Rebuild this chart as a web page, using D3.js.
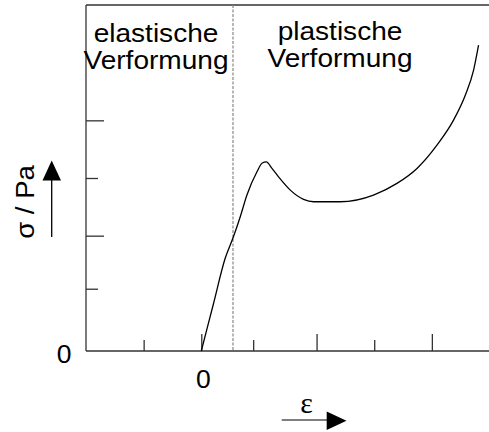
<!DOCTYPE html>
<html>
<head>
<meta charset="utf-8">
<script src="https://cdn.jsdelivr.net/npm/d3@7"></script>
<style>
  html, body { margin: 0; padding: 0; background: #fff; }
  svg { display: block; }
  text { font-family: "Liberation Sans", Arial, sans-serif; fill: #000; }
</style>
</head>
<body>
<svg id="chart" width="489" height="432"></svg>
<script>
// ---- data ----
const strain = [0, 0.104, 0.208, 0.278, 0.338, 0.396, 0.483, 0.529, 0.564, 0.613, 0.670, 0.772, 0.887, 0.974, 1.206, 1.494, 1.697, 1.871, 2.044, 2.188, 2.290, 2.362, 2.405];
const stress = [0, 0.403, 0.806, 0.988, 1.164, 1.352, 1.554, 1.630, 1.640, 1.583, 1.510, 1.395, 1.315, 1.294, 1.294, 1.352, 1.453, 1.583, 1.785, 2.002, 2.218, 2.435, 2.652];
const xMajorTicks = [0, 1, 2];
const xMinorTicks = [-0.5, 0.45, 1.5];
const yMajorTicks = [1, 2];
const yMinorTicks = [0.54, 1.5];
const xTickLabels = ["0"];
const yTickLabels = ["0"];
const boundary = 0.275;
const regionLabels = [["elastische", "Verformung"], ["plastische", "Verformung"]];
const xLabel = "ε";
const yLabel = "σ / Pa";

// ---- scales ----
const svg = d3.select("#chart");
const x = d3.scaleLinear().domain([-1, 2.5]).range([86, 489.5]);
const y = d3.scaleLinear().domain([0, 3]).range([351, 5]);
const axisColor = "#333";

// axis lines (frame)
const [x0, x1] = x.range();
const [yb, yt] = y.range();
svg.append("line").attr("x1", x0).attr("x2", x1).attr("y1", yb).attr("y2", yb)
  .attr("stroke", axisColor).attr("stroke-width", 1.3);
svg.append("line").attr("x1", x0).attr("x2", x0).attr("y1", yb).attr("y2", yt)
  .attr("stroke", axisColor).attr("stroke-width", 1.3);
svg.append("line").attr("x1", x0).attr("x2", x1).attr("y1", yt).attr("y2", yt)
  .attr("stroke", axisColor).attr("stroke-width", 1.3);

// ticks via d3 axes (inward)
function ticks(axisGen, tf) {
  const g = svg.append("g").attr("transform", tf).call(axisGen);
  g.select(".domain").remove();
  g.selectAll(".tick line").attr("stroke", axisColor).attr("stroke-width", 1.3);
  g.selectAll(".tick text").remove();
}
ticks(d3.axisBottom(x).tickValues(xMajorTicks).tickSize(-17).tickFormat(""), `translate(0,${yb})`);
ticks(d3.axisBottom(x).tickValues(xMinorTicks).tickSize(-11).tickFormat(""), `translate(0,${yb})`);
ticks(d3.axisLeft(y).tickValues(yMajorTicks).tickSize(-18).tickFormat(""), `translate(${x0},0)`);
ticks(d3.axisLeft(y).tickValues(yMinorTicks).tickSize(-12).tickFormat(""), `translate(${x0},0)`);

// tick labels
svg.append("text").attr("x", x(0) + 2).attr("y", yb + 37)
  .attr("text-anchor", "middle").attr("font-size", 26.5).text(xTickLabels[0]);
svg.append("text").attr("x", x0 - 22).attr("y", y(0) + 11.5)
  .attr("text-anchor", "middle").attr("font-size", 26.5).text(yTickLabels[0]);

// boundary dashed line
svg.append("line").attr("x1", x(boundary)).attr("x2", x(boundary))
  .attr("y1", yt).attr("y2", yb)
  .attr("stroke", "#888").attr("stroke-width", 1.2).attr("stroke-dasharray", "3,1.5");

// curve
const pts = strain.map((s, i) => [s, stress[i]]);
const line = d3.line().x(d => x(d[0])).y(d => y(d[1])).curve(d3.curveMonotoneX);
svg.append("path").attr("d", line(pts)).attr("fill", "none")
  .attr("stroke", "#000").attr("stroke-width", 1.3);

// region labels
function label(lines, cx, base) {
  lines.forEach((t, i) => {
    svg.append("text")
      .attr("transform", `translate(${cx},${base + i * 27}) scale(1.1,1)`)
      .attr("text-anchor", "middle").attr("font-size", 25.5).text(t);
  });
}
label(regionLabels[0], 156, 41.5);
label(regionLabels[1], 340, 39.5);

// y label + arrow
svg.append("text").attr("transform", "translate(33.5,202) rotate(-90) scale(1.1,1)")
  .attr("text-anchor", "middle").attr("font-size", 25).text(yLabel);
svg.append("line").attr("x1", 51.7).attr("x2", 51.7).attr("y1", 237).attr("y2", 178)
  .attr("stroke", "#000").attr("stroke-width", 1.3);
svg.append("path").attr("d", "M42.5,180.5 L61,180.5 L51.7,160.5 Z").attr("fill", "#000");

// x label + arrow
svg.append("text").attr("x", 306.5).attr("y", 413)
  .attr("text-anchor", "middle").attr("font-size", 30)
  .style("font-family", "'Liberation Serif', 'Times New Roman', serif").text(xLabel);
svg.append("line").attr("x1", 281.7).attr("x2", 328).attr("y1", 420).attr("y2", 420)
  .attr("stroke", "#555").attr("stroke-width", 1.3);
svg.append("path").attr("d", "M326.7,411.5 L326.7,430 L346.5,420.7 Z").attr("fill", "#000");
</script>
</body>
</html>
